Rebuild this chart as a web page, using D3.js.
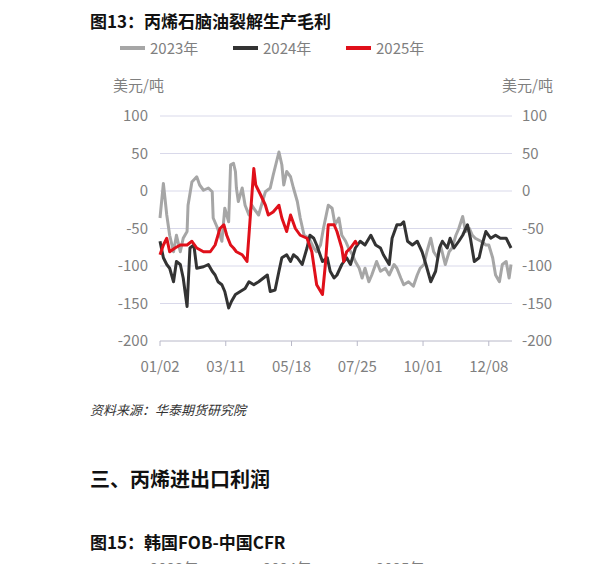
<!DOCTYPE html>
<html><head><meta charset="utf-8">
<script src="https://cdn.jsdelivr.net/npm/d3@7"></script>
<style>body{margin:0;background:#fff}svg{font-family:"Noto Sans CJK SC","Noto Sans",sans-serif}</style>
</head><body><svg id="c" width="599" height="564"></svg>
<script>
// [day of year, value]
const s2023 = [[2,-36],[5.5,10],[9,-32],[12,-59],[16,-81],[19,-59],[23,-81],[26,-63],[30,-54],[31,-19],[35,12],[40,19],[43,8],[47,1],[52,4],[56,-1],[57,-36],[61,-48],[64,-59],[66,-67],[69,-23],[73,-41],[75,35],[78,37],[80,26],[81,4],[83,-14],[87,4],[90,-19],[94,-32],[97,-19],[100,-25],[104,-32],[108,-14],[111,-1],[116,4],[119,21],[125,52],[128,35],[130,8],[133,26],[137,19],[140,4],[144,-14],[147,-36],[151,-59],[156,-63],[161,-76],[164,-81],[168,-72],[171,-50],[176,-19],[180,-23],[183,-45],[187,-36],[190,-59],[194,-67],[197,-76],[201,-85],[204,-94],[208,-103],[211,-116],[214,-103],[218,-121],[221,-112],[226,-94],[230,-107],[235,-103],[239,-112],[244,-98],[247,-103],[251,-116],[254,-125],[259,-121],[264,-127],[268,-112],[271,-103],[275,-98],[278,-81],[282,-63],[285,-81],[289,-89],[292,-72],[297,-98],[301,-81],[304,-76],[308,-59],[311,-50],[315,-34],[318,-54],[322,-50],[325,-59],[328,-63],[334,-67],[339,-72],[342,-72],[346,-89],[349,-112],[353,-121],[356,-98],[360,-94],[363,-116],[365,-98]];
const s2024 = [[2,-67],[5.5,-89],[9,-98],[12,-103],[16,-121],[19,-94],[23,-98],[26,-116],[30,-154],[33,-76],[37,-72],[40,-103],[47,-101],[52,-98],[56,-107],[59,-112],[62,-121],[66,-125],[69,-134],[73,-156],[76,-147],[80,-138],[85,-134],[90,-130],[94,-121],[99,-125],[104,-121],[109,-116],[113,-112],[116,-134],[121,-132],[125,-107],[128,-89],[133,-85],[137,-94],[140,-85],[144,-89],[149,-98],[154,-76],[157,-59],[161,-63],[164,-72],[170,-94],[175,-89],[178,-107],[182,-116],[185,-112],[190,-98],[195,-89],[199,-98],[204,-76],[209,-67],[214,-72],[220,-59],[225,-72],[230,-76],[233,-85],[239,-98],[242,-63],[247,-45],[251,-45],[254,-41],[258,-67],[263,-72],[268,-67],[273,-81],[277,-98],[282,-121],[287,-107],[291,-76],[294,-67],[299,-76],[302,-63],[306,-76],[311,-67],[315,-59],[320,-45],[323,-63],[327,-94],[332,-89],[335,-72],[339,-54],[344,-63],[349,-59],[354,-63],[360,-63],[365,-76]];
const s2025 = [[2,-85],[5.5,-72],[9,-63],[12,-81],[17.5,-76],[23,-72],[30,-72],[35,-67],[40,-76],[47,-81],[54,-81],[59,-72],[64,-50],[68,-45],[71,-59],[75,-72],[78,-76],[81,-81],[87,-85],[92,-94],[95,-41],[99,30],[101,8],[106,-5],[111,-19],[114,-32],[119,-28],[125,-19],[128,-36],[133,-54],[137,-32],[142,-50],[147,-59],[154,-63],[159,-81],[164,-125],[170,-138],[173,-98],[176,-45],[182,-45],[185,-54],[190,-76],[192,-94],[195,-81],[199,-76],[204,-67],[206,-72]];
const series = [
  {name:"2023年", data:s2023, color:"#a6a6a6"},
  {name:"2024年", data:s2024, color:"#333333"},
  {name:"2025年", data:s2025, color:"#e0101a"}
];
const yTicks = [100,50,0,-50,-100,-150,-200];
const xTickDays = [2,70,138,206,274,342];
const xTickLabels = ["01/02","03/11","05/18","07/25","10/01","12/08"];

const svg = d3.select("#c");
const x = d3.scaleLinear().domain([2,366]).range([160,512]);
const y = d3.scaleLinear().domain([-200,100]).range([341,116]);
const grey = "#7f7f7f";

svg.append("text").attr("x",90).attr("y",28).attr("font-size",17).attr("font-weight","bold").attr("fill","#111").text("图13：丙烯石脑油裂解生产毛利");

const lg = svg.append("g");
series.forEach((s,i)=>{
  const lx = 120 + i*113;
  lg.append("line").attr("x1",lx).attr("x2",lx+25).attr("y1",48).attr("y2",48).attr("stroke",s.color).attr("stroke-width",4);
  lg.append("text").attr("x",lx+30).attr("y",54).attr("font-size",15).attr("fill",grey).text(s.name);
});

svg.append("text").attr("x",113).attr("y",91).attr("font-size",15).attr("fill",grey).text("美元/吨");
svg.append("text").attr("x",553).attr("y",91).attr("text-anchor","end").attr("font-size",15).attr("fill",grey).text("美元/吨");

svg.append("g").selectAll("line").data(yTicks).join("line")
  .attr("x1",160).attr("x2",512).attr("y1",d=>y(d)).attr("y2",d=>y(d))
  .attr("stroke",d=>d===-200?"#b8b8c8":"#d9d9ea").attr("stroke-width",1);
svg.append("g").selectAll("text").data(yTicks).join("text")
  .attr("x",148).attr("y",d=>y(d)+5).attr("text-anchor","end").attr("font-size",15).attr("fill",grey).text(d=>d);
svg.append("g").selectAll("text").data(yTicks).join("text")
  .attr("x",522).attr("y",d=>y(d)+5).attr("font-size",15).attr("fill",grey).text(d=>d);

svg.append("g").selectAll("line").data(xTickDays).join("line")
  .attr("x1",d=>x(d)).attr("x2",d=>x(d)).attr("y1",341).attr("y2",346).attr("stroke","#b8b8c8");
svg.append("g").selectAll("text").data(xTickDays).join("text")
  .attr("x",d=>x(d)).attr("y",372).attr("text-anchor","middle").attr("font-size",15).attr("fill",grey).text((d,i)=>xTickLabels[i]);

const line = d3.line().x(d=>x(d[0])).y(d=>y(d[1]));
series.forEach(s=>{
  svg.append("path").datum(s.data).attr("d",line).attr("fill","none")
    .attr("stroke",s.color).attr("stroke-width",3).attr("stroke-linejoin","round");
});

svg.append("text").attr("x",90).attr("y",415).attr("font-size",13).attr("font-style","italic").attr("fill","#333").text("资料来源：华泰期货研究院");
svg.append("text").attr("x",90).attr("y",487).attr("font-size",20).attr("font-weight","bold").attr("fill","#111").text("三、丙烯进出口利润");
svg.append("text").attr("x",90).attr("y",549).attr("font-size",17).attr("font-weight","bold").attr("fill","#111").text("图15：韩国FOB-中国CFR");
series.forEach((s,i)=>{
  const lx = 120 + i*113;
  svg.append("line").attr("x1",lx).attr("x2",lx+25).attr("y1",568).attr("y2",568).attr("stroke",s.color).attr("stroke-width",4);
  svg.append("text").attr("x",lx+30).attr("y",574).attr("font-size",15).attr("fill",grey).text(s.name);
});
</script></body></html>
